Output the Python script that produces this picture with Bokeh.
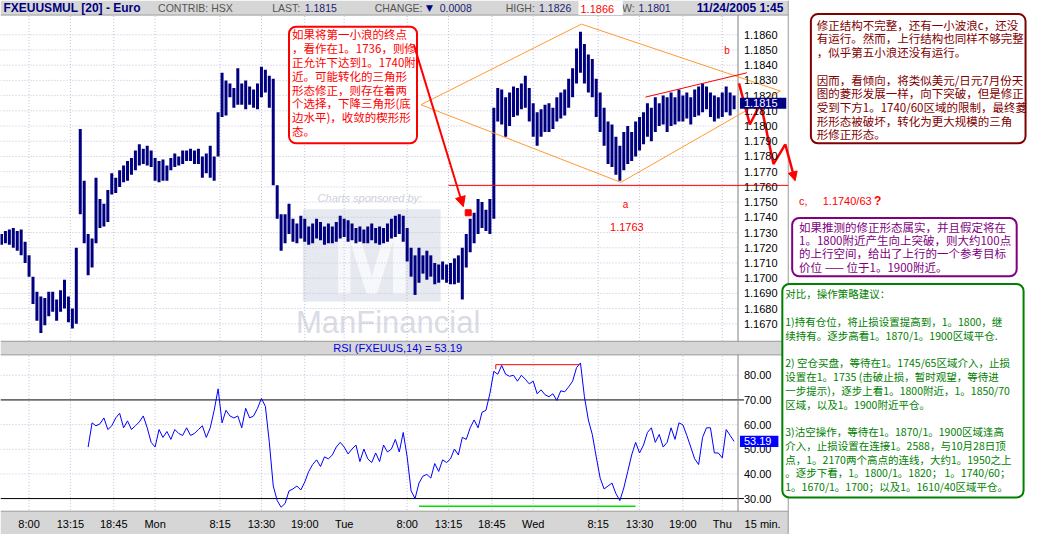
from bokeh.plotting import figure
from bokeh.models import Range1d, BoxAnnotation, Arrow, NormalHead, ColumnDataSource
from bokeh.core.properties import value
from bokeh.embed import file_html
from bokeh.resources import INLINE

# ---------------- data ----------------
# 30-minute bars, first bar Fri 04:30 (hours counted from Mon 00:00)
bar_high = [
    1.1729, 1.1731, 1.1732, 1.1733, 1.1731, 1.1732, 1.1724, 1.1715, 1.1701, 1.1691,
    1.1688, 1.1687, 1.1691, 1.1691, 1.1686, 1.1692, 1.1699, 1.1688, 1.1680, 1.1720,
    1.1798, 1.1764, 1.1729, 1.1726, 1.1766, 1.1752, 1.1749, 1.1758, 1.1769, 1.1766,
    1.1771, 1.1774, 1.1777, 1.1779, 1.1784, 1.1788, 1.1785, 1.1787, 1.1784, 1.1779,
    1.1777, 1.1778, 1.1774, 1.1779, 1.1782, 1.1780, 1.1784, 1.1784, 1.1785, 1.1784,
    1.1785, 1.1780, 1.1782, 1.1787, 1.1780, 1.1809, 1.1835, 1.1830, 1.1828, 1.1825,
    1.1838, 1.1828, 1.1830, 1.1826, 1.1824, 1.1828, 1.1839, 1.1837, 1.1833, 1.1831,
    1.1761, 1.1742, 1.1742, 1.1749, 1.1739, 1.1736, 1.1741, 1.1739, 1.1734, 1.1736,
    1.1739, 1.1737, 1.1734, 1.1736, 1.1734, 1.1737, 1.1741, 1.1739, 1.1738, 1.1736,
    1.1733, 1.1734, 1.1732, 1.1734, 1.1736, 1.1733, 1.1734, 1.1733, 1.1736, 1.1739,
    1.1741, 1.1742, 1.1741, 1.1733, 1.1720, 1.1715, 1.1720, 1.1715, 1.1718, 1.1715,
    1.1710, 1.1709, 1.1711, 1.1709, 1.1710, 1.1713, 1.1715, 1.1720, 1.1729, 1.1739,
    1.1743, 1.1752, 1.1750, 1.1745, 1.1752, 1.1812, 1.1825, 1.1824, 1.1819, 1.1822,
    1.1826, 1.1825, 1.1828, 1.1833, 1.1825, 1.1815, 1.1809, 1.1811, 1.1814, 1.1815,
    1.1812, 1.1819, 1.1822, 1.1824, 1.1831, 1.1838, 1.1851, 1.1862, 1.1854, 1.1847,
    1.1844, 1.1831, 1.1822, 1.1812, 1.1803, 1.1801, 1.1793, 1.1787, 1.1796, 1.1800,
    1.1796, 1.1803, 1.1806, 1.1809, 1.1815, 1.1812, 1.1819, 1.1815, 1.1820, 1.1819,
    1.1822, 1.1819, 1.1824, 1.1820, 1.1822, 1.1819, 1.1824, 1.1826, 1.1828, 1.1826,
    1.1822, 1.1820, 1.1819, 1.1822, 1.1826, 1.1822, 1.1820,
]
bar_low = [
    1.1722, 1.1723, 1.1722, 1.1720, 1.1718, 1.1715, 1.1710, 1.1701, 1.1683, 1.1672,
    1.1664, 1.1669, 1.1675, 1.1678, 1.1672, 1.1678, 1.1680, 1.1671, 1.1667, 1.1670,
    1.1742, 1.1723, 1.1702, 1.1707, 1.1723, 1.1733, 1.1734, 1.1737, 1.1755, 1.1756,
    1.1760, 1.1763, 1.1764, 1.1768, 1.1771, 1.1774, 1.1775, 1.1774, 1.1773, 1.1764,
    1.1763, 1.1764, 1.1764, 1.1771, 1.1773, 1.1774, 1.1775, 1.1777, 1.1777, 1.1775,
    1.1775, 1.1766, 1.1769, 1.1766, 1.1764, 1.1780, 1.1806, 1.1807, 1.1819, 1.1812,
    1.1814, 1.1814, 1.1811, 1.1814, 1.1812, 1.1811, 1.1819, 1.1822, 1.1812, 1.1761,
    1.1739, 1.1718, 1.1723, 1.1729, 1.1724, 1.1723, 1.1726, 1.1724, 1.1722, 1.1723,
    1.1726, 1.1725, 1.1722, 1.1723, 1.1723, 1.1724, 1.1726, 1.1727, 1.1724, 1.1725,
    1.1723, 1.1724, 1.1723, 1.1723, 1.1725, 1.1723, 1.1722, 1.1723, 1.1724, 1.1726,
    1.1727, 1.1729, 1.1724, 1.1711, 1.1701, 1.1689, 1.1697, 1.1703, 1.1699, 1.1701,
    1.1696, 1.1697, 1.1699, 1.1697, 1.1696, 1.1696, 1.1697, 1.1686, 1.1707, 1.1717,
    1.1723, 1.1729, 1.1733, 1.1731, 1.1729, 1.1739, 1.1803, 1.1801, 1.1793, 1.1800,
    1.1806, 1.1807, 1.1811, 1.1812, 1.1803, 1.1793, 1.1787, 1.1793, 1.1796, 1.1796,
    1.1798, 1.1803, 1.1805, 1.1807, 1.1812, 1.1819, 1.1828, 1.1835, 1.1828, 1.1822,
    1.1819, 1.1806, 1.1796, 1.1787, 1.1775, 1.1773, 1.1768, 1.1764, 1.1771, 1.1775,
    1.1777, 1.1780, 1.1784, 1.1788, 1.1793, 1.1790, 1.1796, 1.1800, 1.1801, 1.1796,
    1.1800, 1.1801, 1.1803, 1.1803, 1.1805, 1.1801, 1.1806, 1.1807, 1.1809, 1.1811,
    1.1806, 1.1803, 1.1805, 1.1806, 1.1809, 1.1807, 1.1811,
]
# RSI(14), one value per 30-minute bar, ending with the last bar
rsi_vals = [
    50.9, 60.7, 59.5, 60.3, 62.7, 58.0, 59.5, 62.7, 64.6, 58.7,
    61.5, 58.0, 59.5, 61.1, 63.5, 58.7, 52.8, 50.9, 58.0, 54.8,
    57.2, 54.0, 58.0, 56.4, 55.6, 58.7, 55.6, 56.4, 58.0, 59.5,
    54.8, 58.7, 65.8, 74.5, 60.7, 65.8, 63.5, 62.7, 63.5, 58.7,
    66.6, 62.7, 63.5, 66.6, 70.6, 67.4, 52.8, 35.1, 29.2, 26.5,
    28.0, 33.1, 33.9, 35.1, 33.5, 36.7, 41.0, 43.8, 45.7, 43.0,
    46.9, 46.1, 47.7, 50.9, 52.8, 50.9, 48.1, 50.1, 51.7, 45.0,
    50.1, 46.1, 44.6, 48.5, 45.0, 51.7, 48.9, 50.1, 54.0, 48.9,
    56.8, 46.9, 33.1, 30.0, 36.3, 39.1, 39.8, 38.3, 44.2, 41.0,
    45.7, 44.6, 46.1, 50.1, 47.7, 54.8, 54.0, 58.7, 61.9, 58.7,
    65.0, 65.8, 72.5, 81.6, 80.4, 84.0, 80.4, 79.6, 80.0, 77.6,
    80.0, 78.4, 76.5, 77.6, 72.5, 74.1, 72.1, 71.3, 72.5, 69.8,
    73.7, 73.3, 75.3, 77.6, 83.1, 85.0, 71.3, 61.9, 56.0, 46.9,
    38.3, 33.9, 35.1, 36.3, 32.0, 29.2, 34.3, 41.0, 47.7, 52.8,
    48.5, 51.7, 56.8, 58.7, 52.8, 56.0, 50.9, 52.8, 58.7, 54.0,
    60.7, 59.9, 55.6, 50.9, 46.1, 43.8, 54.8, 58.7, 58.7, 48.5,
    48.5, 46.5, 58.0, 55.6, 53.19,
]
price_ticks = [1.1670, 1.1680, 1.1690, 1.1700, 1.1710, 1.1720, 1.1730, 1.1740, 1.1750, 1.1760,
               1.1770, 1.1780, 1.1790, 1.1800, 1.1810, 1.1820, 1.1830, 1.1840, 1.1850, 1.1860]
rsi_ticks = [30, 40, 50, 60, 70, 80]
rsi_dotted = [40, 50, 60, 80]
rsi_levels = [30, 70]
time_ticks = [-16, -10.75, -5.25, 0, 8.25, 13.5, 19, 24, 32, 37.25, 42.75, 48, 56.25, 61.5, 67, 72]
time_labels = ["8:00", "13:15", "18:45", "Mon", "8:15", "13:30", "19:00", "Tue",
               "8:00", "13:15", "18:45", "Wed", "8:15", "13:30", "19:00", "Thu"]
last_price = 1.1815
last_rsi = 53.19

# analyst drawings (time in hours from Mon 00:00, price)
diamond_t = [33.75, 54.125, 79.375, 59.125, 33.75]
diamond_p = [1.1814, 1.1867, 1.1823, 1.1763, 1.1814]
trend_t = [62.25, 75.125]
trend_p = [1.1819, 1.1835]
support_t = [37.25, 80.375]
support_p = [1.1761, 1.1761]
zig_t = [74.125, 75.5, 76.875, 78.5, 80.0, 81.25]
zig_p = [1.1828, 1.1801, 1.1815, 1.1775, 1.1788, 1.1764]
note_arrow_t = [32.875, 39.125]
note_arrow_p = [1.1853, 1.1747]
marker_t = [39.75]
marker_p = [1.1743]
rsi_top_t = [43.25, 43.25, 53.875]
rsi_top_v = [82.4, 84.3, 84.3]
rsi_bot_t = [33.5, 61.0]
rsi_bot_v = [26.9, 26.9]

box1_lines = ["如果将第一小浪的终点", "，看作在1。1736，则修", "正允许下达到1。1740附",
              "近。可能转化的三角形", "形态修正，则存在着两", "个选择，下降三角形(底",
              "边水平)，收敛的楔形形", "态。"]
box2_lines = ["修正结构不完整，还有一小波浪c，还没", "有运行。然而，上行结构也同样不够完整",
              "，似乎第五小浪还没有运行。", "",
              "因而，看倾向，将类似美元/日元7月份天", "图的菱形发展一样，向下突破，但是修正",
              "受到下方1。1740/60区域的限制，最终菱", "形形态被破坏，转化为更大规模的三角",
              "形修正形态。"]
box3_lines = ["如果推测的修正形态属实，并且假定将在", "1。1800附近产生向上突破，则大约100点",
              "的上行空间，给出了上行的一个参考目标", "价位 —— 位于1。1900附近。"]
box4_lines = ["对比，操作策略建议：", "",
              "1)持有仓位，将止损设置提高到，1。1800，继", "续持有。逐步高看1。1870/1。1900区域平仓.", "",
              "2) 空仓买盘，等待在1。1745/65区域介入，止损", "设置在1。1735 (击破止损，暂时观望，等待进",
              "一步提示)，逐步上看1。1800附近，1。1850/70", "区域，以及1。1900附近平仓。", "",
              "3)沽空操作，等待在1。1870/1。1900区域逢高", "介入，止损设置在连接1。2588，与10月28日顶",
              "点，1。2170两个高点的连线，大约1。1950之上", "。逐步下看，1。1800/1。1820； 1。1740/60；",
              "1。1670/1。1700；以及1。1610/40区域平仓。"]

# ---------------- figure ----------------
# default ranges: layout units of the 1044x550 page; named ranges: time / price / rsi
W, H = 1028, 534
p = figure(width=W, height=H, x_range=Range1d(0, 1044), y_range=Range1d(550, 0),
           output_backend="svg", toolbar_location=None, min_border=0,
           x_axis_type=None, y_axis_type=None)
p.outline_line_color = None
p.background_fill_color = "white"
p.border_fill_color = "white"
p.extra_x_ranges = {"t": Range1d(-19.625, -19.625 + 1044 / 8)}
p.extra_y_ranges = {"price": Range1d(1.17 - (550 - 286) / 15670, 1.17 + 286 / 15670),
                    "rsi": Range1d(30 - (550 - 513) / 2.54, 30 + 513 / 2.54)}

LAT = "Liberation Sans"
CJK = "Noto Sans CJK SC"
GRID = "#c0c0da"
AXIS_X = 749   # right edge of plotting area
LABEL_X = 755


def txt(xs, ys, texts, color, size, font=LAT, align="left", style="normal",
        xr="default", yr="default", level="glyph", baseline="middle"):
    src = ColumnDataSource(dict(x=list(xs), y=list(ys), text=list(texts)))
    r = p.text(x="x", y="y", text="text", source=src, text_color=color,
               text_font_size=size, text_font=value(font), text_align=align,
               text_baseline=baseline, text_font_style=style,
               x_range_name=xr, y_range_name=yr)
    r.level = level
    return r


# --- bands
p.quad(left=[0], right=[800], top=[0], bottom=[15], fill_color="#d6d6d6", line_color=None)
p.quad(left=[0], right=[800], top=[351], bottom=[365], fill_color="#d6d6d6", line_color=None)
p.quad(left=[0], right=[800], top=[526], bottom=[550], fill_color="#d6d6d6", line_color=None)
p.segment(x0=[0, 0, 0, 0], x1=[800, 800, 800, 800], y0=[15, 351, 365, 526], y1=[15, 351, 365, 526],
          line_color="#9a9a9a", line_width=1)
p.segment(x0=[800], x1=[800], y0=[0], y1=[550], line_color="#9a9a9a", line_width=1)

# --- watermark
p.quad(left=[307], right=[447], top=[215], bottom=[310], fill_color="#e7e9f0", line_color=None)
txt([377], [268], ["M"], "#f7f8fb", "96px", style="bold", align="center")
txt([322], [203], ["Charts sponsored by:"], "#cdd1dc", "11px", style="italic")
txt([300], [332], ["ManFinancial"], "#d9dce5", "31px")

# --- grids
p.segment(x0=[0] * len(price_ticks), x1=[AXIS_X] * len(price_ticks), y0=price_ticks, y1=price_ticks,
          y_range_name="price", line_color=GRID, line_dash="1 2", line_width=1)
p.segment(x0=time_ticks, x1=time_ticks, y0=[16] * len(time_ticks), y1=[351] * len(time_ticks),
          x_range_name="t", line_color=GRID, line_dash="1 2", line_width=1)
p.segment(x0=time_ticks, x1=time_ticks, y0=[366] * len(time_ticks), y1=[526] * len(time_ticks),
          x_range_name="t", line_color=GRID, line_dash="1 2", line_width=1)
p.segment(x0=[0] * len(rsi_dotted), x1=[AXIS_X] * len(rsi_dotted), y0=rsi_dotted, y1=rsi_dotted,
          y_range_name="rsi", line_color=GRID, line_dash="1 2", line_width=1)
p.segment(x0=[0] * len(rsi_levels), x1=[LABEL_X] * len(rsi_levels), y0=rsi_levels, y1=rsi_levels,
          y_range_name="rsi", line_color="black", line_width=1)
# axis lines
p.segment(x0=[AXIS_X, AXIS_X], x1=[AXIS_X, AXIS_X], y0=[15, 365], y1=[351, 526],
          line_color="#808080", line_width=1)

# --- price bars
n = min(len(bar_high), len(bar_low))
bar_t = [-19.5 + 0.5 * i for i in range(n)]
p.segment(x0=bar_t, x1=bar_t, y0=bar_low[:n], y1=bar_high[:n], x_range_name="t",
          y_range_name="price", line_color="#000080", line_width=3)

# --- RSI
off = n - len(rsi_vals)
rsi_t = bar_t[off:]
p.line(rsi_t, rsi_vals, x_range_name="t", y_range_name="rsi", line_color="#0000ff", line_width=1)
p.line(rsi_top_t, rsi_top_v, x_range_name="t", y_range_name="rsi", line_color="#ff0000", line_width=1)
p.line(rsi_bot_t, rsi_bot_v, x_range_name="t", y_range_name="rsi", line_color="#00e000", line_width=1.5)

# --- analyst drawings
p.line(diamond_t, diamond_p, x_range_name="t", y_range_name="price", line_color="#ff9a30", line_width=1)
p.line(trend_t, trend_p, x_range_name="t", y_range_name="price", line_color="#ff0000", line_width=1)
p.line(support_t, support_p, x_range_name="t", y_range_name="price", line_color="#ff0000", line_width=1)
p.line(zig_t[:-1], zig_p[:-1], x_range_name="t", y_range_name="price", line_color="#ff0000", line_width=2.5)
p.add_layout(Arrow(end=NormalHead(size=9, fill_color="#ff0000", line_color="#ff0000"),
                   x_start=zig_t[-2], y_start=zig_p[-2], x_end=zig_t[-1], y_end=zig_p[-1],
                   line_color="#ff0000", line_width=2.5, x_range_name="t", y_range_name="price"))
p.scatter(marker_t, marker_p, x_range_name="t", y_range_name="price", marker="square",
          size=6, fill_color="#ff0000", line_color="#ff0000")

# --- axis labels
txt([LABEL_X] * len(price_ticks), price_ticks, [f"{v:.4f}" for v in price_ticks], "black", "11px",
    yr="price")
txt([LABEL_X] * len(rsi_ticks), rsi_ticks, [f"{v:.2f}" for v in rsi_ticks], "black", "11px", yr="rsi")
txt(time_ticks, [539] * len(time_ticks), time_labels, "black", "11px", align="center", xr="t")
txt([774], [539], ["15 min."], "black", "11px", align="center")

# last value markers
p.quad(left=[751], right=[798], top=[last_price + 0.00036], bottom=[last_price - 0.00036],
       y_range_name="price", fill_color="#000080", line_color=None)
txt([LABEL_X], [last_price], [f"{last_price:.4f}"], "white", "11px", yr="price")
p.quad(left=[751], right=[790], top=[last_rsi + 2.3], bottom=[last_rsi - 2.3],
       y_range_name="rsi", fill_color="#0000ff", line_color=None)
txt([LABEL_X], [last_rsi], [f"{last_rsi:.2f}"], "white", "11px", yr="rsi")

# --- title bars
txt([3], [8], ["FXEUUSMUL [20] - Euro"], "#000080", "12px", style="bold")
txt([160, 276, 380, 513, 617], [8] * 5, ["CONTRIB: HSX", "LAST:", "CHANGE:", "HIGH:", "LOW:"],
    "#555555", "10.5px")
txt([309, 446, 547, 648], [8] * 4, ["1.1815", "0.0008", "1.1826", "1.1801"], "#1c1c70", "10.5px")
txt([432], [8], ["▼"], "#000080", "9px", font="DejaVu Sans")
p.quad(left=[587], right=[632], top=[0], bottom=[15], fill_color="white", line_color=None)
txt([589], [9], ["1.1866"], "#ff0000", "11px")
txt([707], [8], ["11/24/2005 1:45"], "#000080", "12px", style="bold")
txt([338], [358], ["RSI (FXEUUS,14) = 53.19"], "#0000e0", "11px")

# --- chart notes
txt([735], [52], ["b"], "#ff0000", "10px")
txt([632], [210], ["a"], "#ff0000", "10px")
txt([619], [233], ["1.1763"], "#ff0000", "11px")
txt([811], [207], ["c,"], "#ff0000", "11px")
txt([835], [207], ["1.1740/63"], "#ff0000", "11px")
txt([887], [207], ["?"], "#ff0000", "12px", style="bold")


# --- text boxes
def box(l, r, t, b, color):
    kw = dict(left=l, right=r, top=t, bottom=b, fill_color="white", fill_alpha=1.0,
              line_color=color, line_width=2, line_alpha=1.0)
    if "border_radius" in BoxAnnotation.properties():
        kw["border_radius"] = 7
    p.add_layout(BoxAnnotation(**kw))


def box_text(lines, x, y0, dy, color, size):
    ys = [y0 + i * dy for i in range(len(lines))]
    txt([x] * len(lines), ys, lines, color, size, font=CJK, level="overlay")


box(293, 423, 27, 147, "#ff0000")
box_text(box1_lines, 296, 35, 14.2, "#ff0000", "11.5px")
p.add_layout(Arrow(end=NormalHead(size=10, fill_color="#ff0000", line_color="#ff0000"),
                   x_start=note_arrow_t[0], y_start=note_arrow_p[0],
                   x_end=note_arrow_t[1], y_end=note_arrow_p[1],
                   line_color="#ff0000", line_width=2, x_range_name="t", y_range_name="price"))

box(823, 1041, 14, 147, "#800000")
box_text(box2_lines, 829, 25, 14.1, "#800000", "11.5px")

box(804, 1032, 224, 284, "#800080")
box_text(box3_lines, 811, 233, 13.7, "#800080", "11.5px")

box(794, 1039, 292, 512, "#008000")
box_text(box4_lines, 797, 302, 14.2, "#008000", "10.5px")

open("out.html", "w").write(file_html(p, INLINE))
